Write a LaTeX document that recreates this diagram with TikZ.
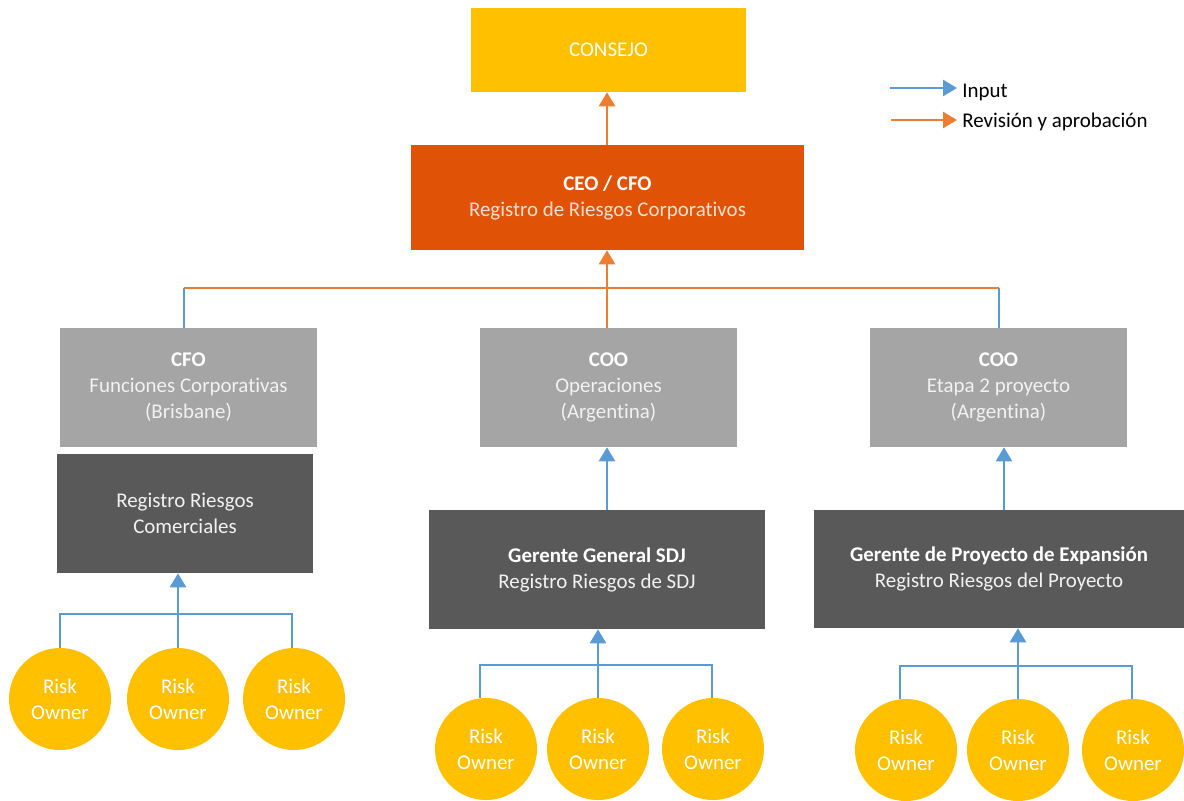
\documentclass[tikz,border=0pt]{standalone}
\usepackage{fontspec}
\setmainfont{Carlito}[RawFeature={-liga;-dlig;-clig}]
\usetikzlibrary{arrows.meta}
\definecolor{cyellow}{HTML}{FFC000}
\definecolor{cceo}{HTML}{E05206}
\definecolor{cgray}{HTML}{A5A5A5}
\definecolor{cdark}{HTML}{595959}
\definecolor{cblue}{HTML}{5B9BD5}
\definecolor{corange}{HTML}{ED7D31}
\definecolor{subceo}{HTML}{FBE0CF}
\definecolor{subgray}{HTML}{F2F2F2}
\begin{document}
\begin{tikzpicture}[x=0.75pt,y=-0.75pt,
  txt/.style={font=\fontsize{15.7}{19.5}\selectfont},
  box/.style={rectangle, inner sep=0pt, align=center, txt, text=white},
  owner/.style={circle, fill=cyellow, inner sep=0pt, minimum size=76.5pt, align=center, txt, text=white},
  bluel/.style={draw=cblue, line width=1.9pt},
  orangel/.style={draw=corange, line width=1.9pt},
  tip/.style={-{Triangle[width=12pt,length=10.5pt]}}
]
\useasboundingbox (0,0) rectangle (1184,800);

% boxes
\node[box, fill=cyellow, minimum width=206.25pt, minimum height=63pt] (consejo) at (608.5,50) {CONSEJO};
\node[box, fill=cceo, minimum width=294.75pt, minimum height=78.75pt] (ceo) at (607.5,197.5)
  {\textbf{CEO / CFO}\\\textcolor{subceo}{Registro de Riesgos Corporativos}};
\node[box, fill=cgray, minimum width=192.75pt, minimum height=89.25pt] (cfo) at (188.5,387.5)
  {\textbf{CFO}\\\textcolor{subgray}{Funciones Corporativas}\\\textcolor{subgray}{(Brisbane)}};
\node[box, fill=cgray, minimum width=192.75pt, minimum height=89.25pt] (coomid) at (608.5,387.5)
  {\textbf{COO}\\\textcolor{subgray}{Operaciones}\\\textcolor{subgray}{(Argentina)}};
\node[box, fill=cgray, minimum width=192.75pt, minimum height=89.25pt] (cooright) at (998.5,387.5)
  {\textbf{COO}\\\textcolor{subgray}{Etapa 2 proyecto}\\\textcolor{subgray}{(Argentina)}};
\node[box, fill=cdark, minimum width=192pt, minimum height=89.25pt] (regcom) at (185,513.5)
  {\textcolor{subgray}{Registro Riesgos}\\\textcolor{subgray}{Comerciales}};
\node[box, fill=cdark, minimum width=252pt, minimum height=89.25pt] (gsdj) at (597,569.5)
  {\textbf{Gerente General SDJ}\\\textcolor{subgray}{Registro Riesgos de SDJ}};
\node[box, fill=cdark, minimum width=277.5pt, minimum height=88.5pt] (gproy) at (999,569)
  {\textbf{Gerente de Proyecto de Expansión}\\\textcolor{subgray}{Registro Riesgos del Proyecto}};

% risk owners
\node[owner] (l1) at (60,699) {Risk\\Owner};
\node[owner] (l2) at (178,699) {Risk\\Owner};
\node[owner] (l3) at (294,699) {Risk\\Owner};
\node[owner] (m1) at (486,749) {Risk\\Owner};
\node[owner] (m2) at (598,749) {Risk\\Owner};
\node[owner] (m3) at (713,749) {Risk\\Owner};
\node[owner] (r1) at (906,750) {Risk\\Owner};
\node[owner] (r2) at (1018,750) {Risk\\Owner};
\node[owner] (r3) at (1133,750) {Risk\\Owner};

% bus coordinates
\coordinate (busL) at (184,288);
\coordinate (busR) at (999,288);
\coordinate (lbL) at (60,614);
\coordinate (lbR) at (292,614);
\coordinate (mbL) at (480,665);
\coordinate (mbR) at (712,665);
\coordinate (rbL) at (900,666);
\coordinate (rbR) at (1132,666);
\coordinate (xm) at (607,0);
\coordinate (xr) at (1004,0);

% top connectors
\draw[orangel, tip] (ceo.north -| xm) -- (consejo.south -| xm);
\draw[orangel] (busL) -- (busR);
\draw[bluel] (busL |- cfo.north) -- (busL);
\draw[bluel] (busR |- cooright.north) -- (busR);
\draw[orangel, tip] (coomid.north -| xm) -- (ceo.south -| xm);

% middle connectors
\draw[bluel, tip] (gsdj.north -| xm) -- (coomid.south -| xm);
\draw[bluel, tip] (gproy.north -| xr) -- (cooright.south -| xr);

% left group
\draw[bluel] (lbL |- l1.north) -- (lbL) -- (lbR) -- (lbR |- l3.north);
\draw[bluel, tip] (l2.north) -- (regcom.south -| l2);

% middle group
\draw[bluel] (mbL |- m1.north) -- (mbL) -- (mbR) -- (mbR |- m3.north);
\draw[bluel, tip] (m2.north) -- (gsdj.south -| m2);

% right group
\draw[bluel] (rbL |- r1.north) -- (rbL) -- (rbR) -- (rbR |- r3.north);
\draw[bluel, tip] (r2.north) -- (gproy.south -| r2);

% legend
\coordinate (lg1a) at (890,88);
\coordinate (lg1b) at (957,88);
\coordinate (lg2a) at (891,120);
\coordinate (lg2b) at (957,120);
\draw[bluel, tip] (lg1a) -- (lg1b);
\draw[orangel, tip] (lg2a) -- (lg2b);
\node[txt, anchor=west, inner sep=0pt] (leg1) at (962,92) {Input};
\node[txt, anchor=west, inner sep=0pt] (leg2) at (962,122) {Revisión y aprobación};
\end{tikzpicture}
\end{document}
